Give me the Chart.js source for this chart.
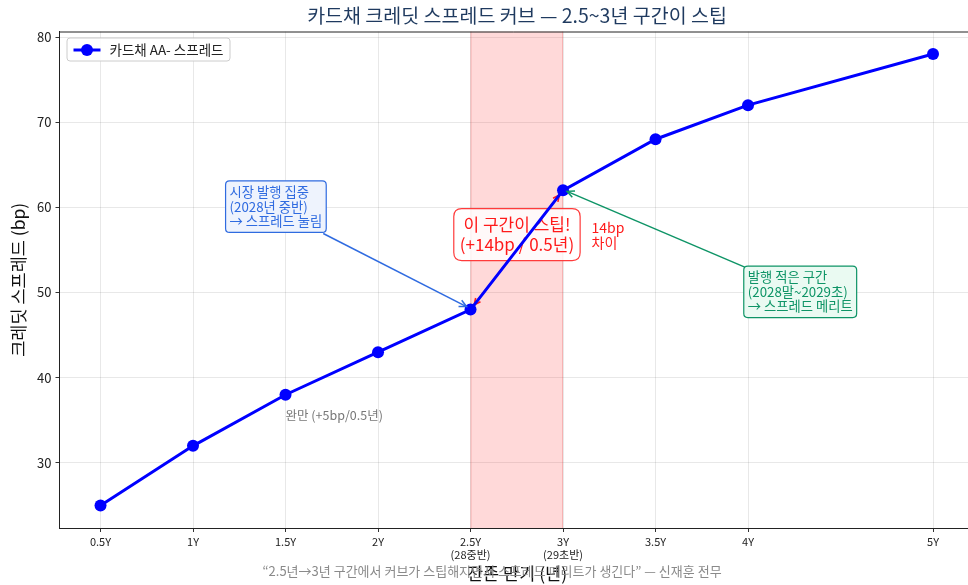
<!DOCTYPE html>
<html>
<head>
<meta charset="utf-8">
<script src="https://cdn.jsdelivr.net/npm/chart.js@4.4.1/dist/chart.umd.min.js"></script>
<style>
  html, body { margin: 0; padding: 0; background: #fff; }
  #wrap { width: 968px; height: 585px; position: relative; }
</style>
</head>
<body>
<div id="wrap"><canvas id="c" width="968" height="585"></canvas></div>
<script>
// Remaining tenor (years) and card-bond AA- spread (bp)
const tenors = [0.5, 1, 1.5, 2, 2.5, 3, 3.5, 4, 5];
const spreads = [25, 32, 38, 43, 48, 62, 68, 72, 78];
const tickLabels = ['0.5Y', '1Y', '1.5Y', '2Y', '2.5Y', '3Y', '3.5Y', '4Y', '5Y'];
const tickSubLabels = ['', '', '', '', '(28중반)', '(29초반)', '', '', ''];
const yTicks = [30, 40, 50, 60, 70, 80];
const steepZone = [2.5, 3];

const FONT = "'Noto Sans CJK KR', 'Noto Sans', sans-serif";
Chart.defaults.font.family = FONT;

function roundRect(ctx, x, y, w, h, r) {
  ctx.beginPath();
  ctx.moveTo(x + r, y);
  ctx.lineTo(x + w - r, y);
  ctx.quadraticCurveTo(x + w, y, x + w, y + r);
  ctx.lineTo(x + w, y + h - r);
  ctx.quadraticCurveTo(x + w, y + h, x + w - r, y + h);
  ctx.lineTo(x + r, y + h);
  ctx.quadraticCurveTo(x, y + h, x, y + h - r);
  ctx.lineTo(x, y + r);
  ctx.quadraticCurveTo(x, y, x + r, y);
  ctx.closePath();
}

function arrow(ctx, x1, y1, x2, y2, color, width, head, both) {
  ctx.save();
  ctx.strokeStyle = color;
  ctx.fillStyle = color;
  ctx.lineWidth = width;
  ctx.beginPath();
  ctx.moveTo(x1, y1);
  ctx.lineTo(x2, y2);
  ctx.stroke();
  const drawHead = (ax, ay, bx, by) => {
    const a = Math.atan2(by - ay, bx - ax);
    ctx.beginPath();
    ctx.moveTo(bx - head * Math.cos(a - 0.45), by - head * Math.sin(a - 0.45));
    ctx.lineTo(bx, by);
    ctx.lineTo(bx - head * Math.cos(a + 0.45), by - head * Math.sin(a + 0.45));
    ctx.stroke();
  };
  drawHead(x1, y1, x2, y2);
  if (both) drawHead(x2, y2, x1, y1);
  ctx.restore();
}

function textBox(ctx, lines, x, y, opt) {
  ctx.save();
  ctx.font = opt.font;
  const lh = opt.lineHeight;
  let w = 0;
  lines.forEach(l => { w = Math.max(w, ctx.measureText(l).width); });
  const bw = w + opt.pad * 2;
  const bh = lines.length * lh + opt.pad * 2;
  let bx = x, by = y;
  if (opt.center) { bx = x - bw / 2; by = y - bh / 2; }
  roundRect(ctx, bx, by, bw, bh, opt.radius);
  ctx.fillStyle = opt.fill;
  ctx.fill();
  ctx.lineWidth = opt.borderWidth || 1.2;
  ctx.strokeStyle = opt.border;
  ctx.stroke();
  ctx.fillStyle = opt.color;
  ctx.textBaseline = 'middle';
  ctx.textAlign = opt.center ? 'center' : 'left';
  lines.forEach((l, i) => {
    const tx = opt.center ? bx + bw / 2 : bx + opt.pad;
    ctx.fillText(l, tx, by + opt.pad + lh * (i + 0.5));
  });
  ctx.restore();
  return { x: bx, y: by, w: bw, h: bh };
}

const decorations = {
  id: 'decorations',
  beforeDatasetsDraw(chart) {
    const { ctx, chartArea: a, scales: { x, y } } = chart;
    ctx.save();
    // steep segment band
    ctx.fillStyle = 'rgba(255, 0, 0, 0.15)';
    const x0 = x.getPixelForValue(steepZone[0]);
    const x1 = x.getPixelForValue(steepZone[1]);
    ctx.fillRect(x0, a.top, x1 - x0, a.bottom - a.top);
    ctx.strokeStyle = 'rgba(220, 60, 60, 0.25)';
    ctx.lineWidth = 1;
    ctx.beginPath();
    ctx.moveTo(x0 + 0.5, a.top); ctx.lineTo(x0 + 0.5, a.bottom);
    ctx.moveTo(x1 - 0.5, a.top); ctx.lineTo(x1 - 0.5, a.bottom);
    ctx.stroke();

    // double arrow across the steep segment
    const p0 = { x: x.getPixelForValue(tenors[4]), y: y.getPixelForValue(spreads[4]) };
    const p1 = { x: x.getPixelForValue(tenors[5]), y: y.getPixelForValue(spreads[5]) };
    const dx = p1.x - p0.x, dy = p1.y - p0.y, len = Math.hypot(dx, dy);
    const s = 6 / len;
    arrow(ctx, p0.x + dx * s, p0.y + dy * s, p1.x - dx * s, p1.y - dy * s, '#ff1a1a', 1.6, 7, true);

    // steep callout box
    textBox(ctx, ['이 구간이 스팁!', '(+14bp / 0.5년)'],
      x.getPixelForValue(2.751), y.getPixelForValue(56.8),
      { font: '17px ' + FONT, lineHeight: 20, pad: 6, radius: 8, center: true,
        fill: 'rgba(255,255,255,0.82)', border: '#ff3b3b', color: '#ff1a1a', borderWidth: 1.2 });
    ctx.restore();
  },
  afterDraw(chart) {
    const { ctx, chartArea: a, scales: { x, y } } = chart;
    ctx.save();

    // top spine
    ctx.strokeStyle = '#222';
    ctx.lineWidth = 1;
    ctx.beginPath();
    ctx.moveTo(a.left, a.top + 0.5);
    ctx.lineTo(a.right, a.top + 0.5);
    ctx.stroke();

    // "14bp 차이"
    ctx.fillStyle = '#ff1a1a';
    ctx.font = '14px ' + FONT;
    ctx.textAlign = 'left';
    ctx.textBaseline = 'middle';
    ctx.fillText('14bp', x.getPixelForValue(3.154), 228);
    ctx.fillText('차이', x.getPixelForValue(3.154), 243);

    // gentle slope note
    ctx.fillStyle = '#777';
    ctx.font = '12.5px ' + FONT;
    ctx.fillText('완만 (+5bp/0.5년)', x.getPixelForValue(1.5), y.getPixelForValue(35.6));

    // issuance-heavy callout (blue)
    const pA = { x: x.getPixelForValue(tenors[4]), y: y.getPixelForValue(spreads[4]) };
    const b1 = textBox(ctx, ['시장 발행 집중', '(2028년 중반)', '→ 스프레드 눌림'],
      x.getPixelForValue(1.176), y.getPixelForValue(63.1),
      { font: '13.3px ' + FONT, lineHeight: 14.5, pad: 4, radius: 4,
        fill: '#eef3fd', border: '#2f6be0', color: '#2f6be0' });
    arrow(ctx, b1.x + b1.w - 3, b1.y + b1.h + 1, pA.x - 4, pA.y - 3, '#2f6be0', 1.5, 8, false);

    // light-issuance callout (green)
    const pB = { x: x.getPixelForValue(tenors[5]), y: y.getPixelForValue(spreads[5]) };
    const b2 = textBox(ctx, ['발행 적은 구간', '(2028말~2029초)', '→ 스프레드 메리트'],
      x.getPixelForValue(3.977), y.getPixelForValue(53.1),
      { font: '13.3px ' + FONT, lineHeight: 14.5, pad: 4, radius: 4,
        fill: '#eafaf2', border: '#0e9466', color: '#0e9466' });
    arrow(ctx, b2.x + 1, b2.y + 1, pB.x + 4, pB.y + 1, '#0e9466', 1.5, 8, false);

    // legend
    ctx.font = '13.5px ' + FONT;
    roundRect(ctx, a.left + 7.5, a.top + 6.5, 163, 23, 3);
    ctx.fillStyle = 'rgba(255,255,255,0.85)';
    ctx.fill();
    ctx.strokeStyle = '#cccccc';
    ctx.lineWidth = 1;
    ctx.stroke();
    ctx.strokeStyle = '#0000ff';
    ctx.lineWidth = 3;
    ctx.beginPath();
    ctx.moveTo(a.left + 14, a.top + 18.5);
    ctx.lineTo(a.left + 41, a.top + 18.5);
    ctx.stroke();
    ctx.fillStyle = '#0000ff';
    ctx.beginPath();
    ctx.arc(a.left + 27.5, a.top + 18.5, 6, 0, Math.PI * 2);
    ctx.fill();
    ctx.fillStyle = '#222';
    ctx.textAlign = 'left';
    ctx.fillText('카드채 AA- 스프레드', a.left + 50, a.top + 18.5);

    // title
    ctx.fillStyle = '#1f3a5f';
    ctx.font = '19.5px ' + FONT;
    ctx.textAlign = 'center';
    ctx.fillText('카드채 크레딧 스프레드 커브 — 2.5~3년 구간이 스팁', 517, 16);

    // axis titles
    ctx.fillStyle = '#111';
    ctx.font = '17.5px ' + FONT;
    ctx.fillText('잔존 만기 (년)', 517, 573);
    ctx.save();
    ctx.translate(18, (a.top + a.bottom) / 2);
    ctx.rotate(-Math.PI / 2);
    ctx.fillText('크레딧 스프레드 (bp)', 0, 0);
    ctx.restore();

    // source quote
    ctx.fillStyle = '#8a8a8a';
    ctx.font = '13px ' + FONT;
    ctx.fillText('“2.5년→3년 구간에서 커브가 스팁해지면서 스프레드 메리트가 생긴다” — 신재훈 전무', 492, 571);

    ctx.restore();
  }
};

new Chart(document.getElementById('c'), {
  type: 'line',
  data: {
    datasets: [{
      label: '카드채 AA- 스프레드',
      data: tenors.map((t, i) => ({ x: t, y: spreads[i] })),
      borderColor: '#0000ff',
      backgroundColor: '#0000ff',
      borderWidth: 3,
      pointRadius: 6,
      pointHoverRadius: 6,
      pointBorderWidth: 0,
      tension: 0
    }]
  },
  options: {
    responsive: false,
    animation: false,
    events: [],
    layout: { autoPadding: false, padding: { top: 31.5, left: 0, right: 0, bottom: 0 } },
    plugins: { legend: { display: false }, title: { display: false }, tooltip: { enabled: false } },
    scales: {
      x: {
        type: 'linear',
        min: 0.2783,
        max: 5.189,
        afterFit(s) { s.height = 57; s.paddingLeft = 0; s.paddingRight = 0; },
        afterBuildTicks(s) { s.ticks = tenors.map(v => ({ value: v })); },
        grid: { color: 'rgba(0,0,0,0.09)', tickColor: '#333', tickLength: 4, lineWidth: 1 },
        border: { color: '#222', width: 1 },
        ticks: {
          autoSkip: false,
          maxRotation: 0,
          padding: 3,
          color: '#222',
          font: { size: 11 },
          callback(v) {
            const i = tenors.indexOf(v);
            if (i < 0) return '';
            return tickSubLabels[i] ? [tickLabels[i], tickSubLabels[i]] : tickLabels[i];
          }
        }
      },
      y: {
        min: 22.35,
        max: 80.65,
        afterFit(s) { s.width = 59.5; s.paddingTop = 0; s.paddingBottom = 0; },
        afterBuildTicks(s) { s.ticks = yTicks.map(v => ({ value: v })); },
        grid: { color: 'rgba(0,0,0,0.09)', tickColor: '#333', tickLength: 4, lineWidth: 1 },
        border: { color: '#222', width: 1 },
        ticks: { padding: 4, color: '#222', font: { size: 13 } }
      }
    }
  },
  plugins: [decorations]
});
</script>
</body>
</html>
